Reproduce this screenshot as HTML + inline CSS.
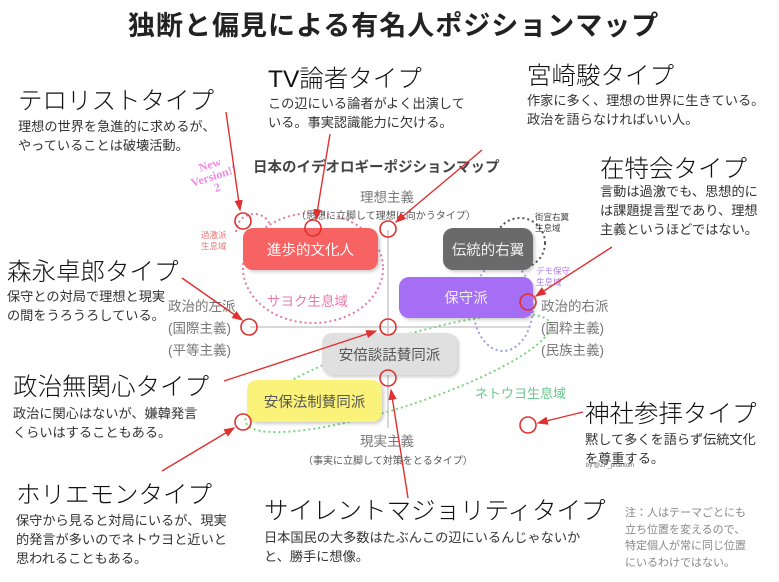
<!DOCTYPE html>
<html><head><meta charset="utf-8"><style>
body{margin:0;width:779px;height:582px;background:#fff;position:relative;overflow:hidden;font-family:"Liberation Sans","Noto Sans CJK JP",sans-serif;color:#222}
.a{position:absolute;white-space:nowrap}
.h{font-size:24.5px;font-weight:300;color:#111;letter-spacing:0px}
.d{font-size:13.2px;line-height:19px;color:#333}
.g{color:#777;font-size:13.5px;line-height:22px}
.box{position:absolute;border-radius:10px;display:flex;align-items:center;justify-content:center;font-size:14.5px;box-shadow:2px 2px 3px rgba(0,0,0,.2)}
</style></head><body>
<div class="a" style="left:128px;top:4px;font-size:27px;font-weight:bold;letter-spacing:1px">独断と偏見による有名人ポジションマップ</div>

<svg class="a" style="left:0;top:0" width="779" height="582">
<g stroke="#ccc" stroke-width="1.5"><line x1="388" y1="230" x2="388" y2="428"/><line x1="250" y1="327" x2="530" y2="327"/></g>
<g fill="none" stroke-dasharray="2,3" stroke-width="2">
<ellipse cx="313" cy="268" rx="70" ry="55" stroke="#e07ba8"/>
<path d="M236,232 Q238,214 256,214 Q268,216 270,226" stroke="#e07ba8"/>
<circle cx="520" cy="243" r="25" stroke="#555"/>
<ellipse cx="503" cy="306" rx="30" ry="45" stroke="#9aa0ee"/>
<ellipse cx="398" cy="373" rx="160" ry="34" transform="rotate(-18 398 373)" stroke="#7bd67b"/>
</g>
</svg>

<div class="box" style="left:243px;top:228px;width:135px;height:42px;background:#f76262;color:#fff">進歩的文化人</div>
<div class="box" style="left:443px;top:228px;width:90px;height:42px;background:#6a6a6a;color:#eee">伝統的右翼</div>
<div class="box" style="left:399px;top:277px;width:134px;height:41px;background:#a56ef4;color:#eee">保守派</div>
<div class="box" style="left:322px;top:333px;width:135px;height:42px;background:#e0e0e0;color:#555">安倍談話賛同派</div>
<div class="box" style="left:247px;top:380px;width:135px;height:42px;background:#fbf27a;color:#555">安保法制賛同派</div>

<div class="a" style="left:253px;top:156px;font-size:14.5px;font-weight:bold;color:#444">日本のイデオロギーポジションマップ</div>
<div class="a" style="left:190px;top:158px;font-size:12px;font-weight:bold;color:#f08ae8;transform:rotate(-18deg);line-height:12px;text-align:center;font-family:'Liberation Serif',serif">New<br>Version!!<br>2</div>
<div class="a g" style="left:360px;top:187px">理想主義</div>
<div class="a" style="left:296px;top:207px;font-size:10px;color:#555">（思想に立脚して理想に向かうタイプ）</div>
<div class="a g" style="left:360px;top:431px">現実主義</div>
<div class="a" style="left:303px;top:452px;font-size:10px;color:#555">（事実に立脚して対策をとるタイプ）</div>
<div class="a g" style="left:168px;top:296px">政治的左派<br>(国際主義)<br>(平等主義)</div>
<div class="a g" style="left:541px;top:296px">政治的右派<br>(国粋主義)<br>(民族主義)</div>
<div class="a" style="left:201px;top:230px;font-size:8.5px;color:#ee7777;line-height:11px">過激派<br>生息域</div>
<div class="a" style="left:535px;top:212px;font-size:8.5px;color:#444;line-height:11px">街宣右翼<br>生息域</div>
<div class="a" style="left:536px;top:266px;font-size:8.5px;color:#b07cf0;line-height:11px">デモ保守<br>生息域</div>
<div class="a" style="left:267px;top:290px;font-size:13.5px;color:#e77cab">サヨク生息域</div>
<div class="a" style="left:475px;top:383px;font-size:13px;color:#6cc58f">ネトウヨ生息域</div>
<div class="a" style="left:586px;top:463px;font-size:6px;color:#666">by @ZF_phantom</div>

<svg class="a" style="left:0;top:0" width="779" height="582">
<defs><marker id="m" markerWidth="8" markerHeight="8" refX="7" refY="4" orient="auto"><path d="M0,1 L8,4 L0,7 z" fill="#e03030"/></marker></defs>
<g stroke="#e03030" stroke-width="1.4" marker-end="url(#m)">
<line x1="226" y1="112" x2="240" y2="210"/>
<line x1="330" y1="134" x2="316" y2="219"/>
<line x1="482" y1="150" x2="396" y2="222"/>
<line x1="612" y1="247" x2="536" y2="296"/>
<line x1="182" y1="278" x2="242" y2="320"/>
<line x1="224" y1="381" x2="376" y2="331"/>
<line x1="162" y1="471" x2="234" y2="428"/>
<line x1="408" y1="498" x2="391" y2="390"/>
<line x1="583" y1="412" x2="538" y2="423"/>
</g>
<g fill="none" stroke="#e03030" stroke-width="1.6">
<circle cx="243" cy="221" r="8"/><circle cx="313" cy="228" r="8"/><circle cx="388" cy="229" r="8"/>
<circle cx="528" cy="302" r="8"/><circle cx="249" cy="327" r="8"/><circle cx="388" cy="327" r="8"/>
<circle cx="388" cy="378" r="8"/><circle cx="243" cy="422" r="8"/><circle cx="528" cy="425" r="8"/>
</g>
</svg>

<div class="a h" style="left:18px;top:82px">テロリストタイプ</div>
<div class="a d" style="left:18px;top:117px">理想の世界を急進的に求めるが、<br>やっていることは破壊活動。</div>
<div class="a h" style="left:268px;top:60px">TV論者タイプ</div>
<div class="a d" style="left:268px;top:94px">この辺にいる論者がよく出演して<br>いる。事実認識能力に欠ける。</div>
<div class="a h" style="left:527px;top:57px">宮崎駿タイプ</div>
<div class="a d" style="left:527px;top:91px">作家に多く、理想の世界に生きている。<br>政治を語らなければいい人。</div>
<div class="a h" style="left:600px;top:150px">在特会タイプ</div>
<div class="a d" style="left:600px;top:182px">言動は過激でも、思想的に<br>は課題提言型であり、理想<br>主義というほどではない。</div>
<div class="a h" style="left:7px;top:253px">森永卓郎タイプ</div>
<div class="a d" style="left:7px;top:287px">保守との対局で理想と現実<br>の間をうろうろしている。</div>
<div class="a h" style="left:13px;top:368px">政治無関心タイプ</div>
<div class="a d" style="left:13px;top:404px">政治に関心はないが、嫌韓発言<br>くらいはすることもある。</div>
<div class="a h" style="left:585px;top:395px">神社参拝タイプ</div>
<div class="a d" style="left:585px;top:430px">黙して多くを語らず伝統文化<br>を尊重する。</div>
<div class="a h" style="left:16px;top:476px">ホリエモンタイプ</div>
<div class="a d" style="left:16px;top:511px">保守から見ると対局にいるが、現実<br>的発言が多いのでネトウヨと近いと<br>思われることもある。</div>
<div class="a h" style="left:264px;top:492px">サイレントマジョリティタイプ</div>
<div class="a d" style="left:264px;top:528px">日本国民の大多数はたぶんこの辺にいるんじゃないか<br>と、勝手に想像。</div>
<div class="a" style="left:625px;top:505px;font-size:11px;line-height:16.5px;color:#888">注：人はテーマごとにも<br>立ち位置を変えるので、<br>特定個人が常に同じ位置<br>にいるわけではない。</div>
</body></html>
